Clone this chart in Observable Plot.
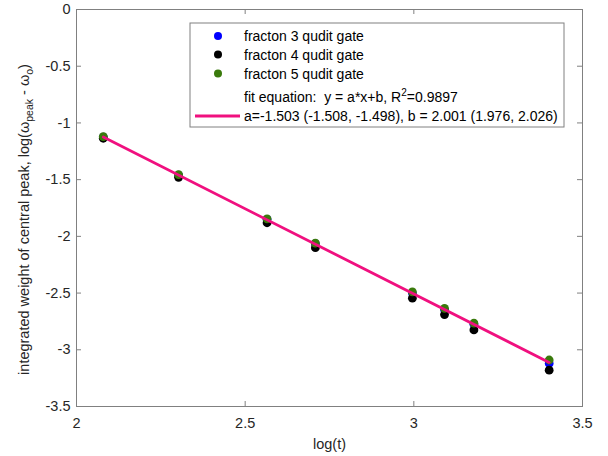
<!DOCTYPE html>
<html>
<head>
<meta charset="utf-8">
<script src="https://cdn.jsdelivr.net/npm/d3@7"></script>
<script src="https://cdn.jsdelivr.net/npm/@observablehq/plot@0.6"></script>
<style>
  body { margin: 0; background: #fff; }
  svg { font-family: "Liberation Sans", Arial, sans-serif; }
</style>
</head>
<body>
<div id="chart"></div>
<script>
// ---- data ----
const logT = [2.0794, 2.3026, 2.5649, 2.7081, 2.9957, 3.0910, 3.1781, 3.4012];
const fracton3 = [-1.125, -1.46, -1.85, -2.065, -2.50, -2.645, -2.775, -3.12];
const fracton4 = [-1.135, -1.48, -1.88, -2.10, -2.545, -2.69, -2.825, -3.18];
const fracton5 = [-1.12, -1.455, -1.845, -2.06, -2.49, -2.635, -2.765, -3.09];
const fitA = -1.503;
const fitB = 2.001;
const seriesNames = ["fracton 3 qudit gate", "fracton 4 qudit gate", "fracton 5 qudit gate"];
const seriesColors = ["#0000ff", "#000000", "#3a7a0c"];
const fitColor = "#f0107f";
const xTicks = [2, 2.5, 3, 3.5];
const yTicks = [0, -0.5, -1, -1.5, -2, -2.5, -3, -3.5];
const fitText1 = "fit equation:  y = a*x+b, R";
const fitText1b = "=0.9897";
const fitText2 = "a=-1.503 (-1.508, -1.498), b = 2.001 (1.976, 2.026)";

const seriesValues = [fracton3, fracton4, fracton5];
const points = [];
seriesValues.forEach((vals, i) => vals.forEach((v, j) => points.push({x: logT[j], y: v, s: seriesNames[i]})));
const fitLine = [logT[0], logT[logT.length - 1]].map(x => ({x, y: fitA * x + fitB}));

const W = 608, H = 456;
const mL = 76, mR = 26, mT = 9, mB = 50;
const fw = W - mL - mR, fh = H - mT - mB;
const axisColor = "#808080";
const tickLen = 5;

const chart = Plot.plot({
  width: W, height: H,
  marginLeft: mL, marginRight: mR, marginTop: mT, marginBottom: mB,
  style: {fontFamily: "Liberation Sans, Arial, sans-serif", fontSize: "14.5px", background: "#fff"},
  x: {domain: [2, 3.5]},
  y: {domain: [-3.5, 0]},
  color: {domain: seriesNames, range: seriesColors},
  marks: [
    Plot.frame({stroke: axisColor, strokeWidth: 1}),
    // inward ticks on all four sides
    Plot.tickX(xTicks, {x: d => d, stroke: axisColor, insetTop: fh - tickLen}),
    Plot.tickX(xTicks, {x: d => d, stroke: axisColor, insetBottom: fh - tickLen}),
    Plot.tickY(yTicks, {y: d => d, stroke: axisColor, insetRight: fw - tickLen}),
    Plot.tickY(yTicks, {y: d => d, stroke: axisColor, insetLeft: fw - tickLen}),
    Plot.axisX({ticks: xTicks, tickSize: 0, tickPadding: 11, tickFormat: d => String(d), color: "#262626",
                label: "log(t)", labelAnchor: "center", labelArrow: "none", labelOffset: 42, fontSize: 14.5}),
    Plot.axisY({ticks: yTicks, tickSize: 0, tickPadding: 6, tickFormat: d => String(d), color: "#262626", label: null, fontSize: 14.5}),
    Plot.dot(points, {x: "x", y: "y", fill: "s", r: 4.4}),
    Plot.line(fitLine, {x: "x", y: "y", stroke: fitColor, strokeWidth: 2.8})
  ]
});

document.getElementById("chart").appendChild(chart);

// ---- y-axis label with subscripts & legend (added to the same SVG) ----
const svg = d3.select(chart);
const ylab = svg.append("text")
  .attr("transform", `translate(29,${mT + fh / 2 + 12}) rotate(-90)`)
  .attr("text-anchor", "middle")
  .attr("fill", "#262626")
  .style("font-size", "14.5px");
ylab.append("tspan").text("integrated weight of central peak, log(\u03C9");
ylab.append("tspan").attr("dy", 4).style("font-size", "10.5px").text("peak");
ylab.append("tspan").attr("dy", -4).text(" - \u03C9");
ylab.append("tspan").attr("dy", 4).style("font-size", "10.5px").text("o");
ylab.append("tspan").attr("dy", -4).text(")");

const lg = svg.append("g").style("font-size", "14px").attr("fill", "#000").attr("text-anchor", "start");
const lx = 190, ly = 23, lw = 374, lh = 104;
lg.append("rect").attr("x", lx).attr("y", ly).attr("width", lw).attr("height", lh)
  .attr("fill", "#fff").attr("stroke", axisColor);
const rowY = [36, 54.5, 73.5, 97, 116];
seriesNames.forEach((name, i) => {
  lg.append("circle").attr("cx", lx + 28).attr("cy", rowY[i]).attr("r", 4).attr("fill", seriesColors[i]);
  lg.append("text").attr("x", lx + 54).attr("y", rowY[i] + 5).attr("text-anchor", "start").text(name);
});
const t1 = lg.append("text").attr("x", lx + 54).attr("y", rowY[3] + 5).attr("text-anchor", "start");
t1.append("tspan").text(fitText1);
t1.append("tspan").attr("dy", -6).style("font-size", "10px").text("2");
t1.append("tspan").attr("dy", 6).text(fitText1b);
lg.append("line").attr("x1", lx + 5).attr("x2", lx + 50).attr("y1", rowY[4]).attr("y2", rowY[4])
  .attr("stroke", fitColor).attr("stroke-width", 2.8);
lg.append("text").attr("x", lx + 54).attr("y", rowY[4] + 5).attr("text-anchor", "start").text(fitText2);
</script>
</body>
</html>
